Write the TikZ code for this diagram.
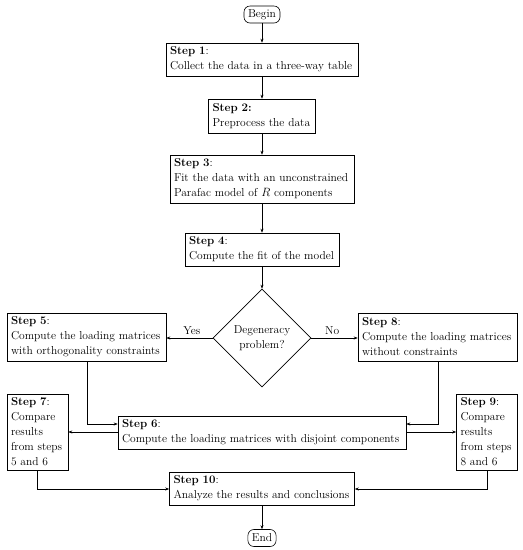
\documentclass[tikz,border=0pt]{standalone}
\usetikzlibrary{shapes.geometric,arrows.meta}
\begin{document}
\begin{tikzpicture}[x=1pt,y=-1pt,
  every node/.style={font=\fontsize{11.5}{15}\selectfont},
  stepbox/.style={draw,line width=0.6pt,rectangle,align=left,inner xsep=4pt,inner ysep=2pt,anchor=center},
  term/.style={draw,line width=0.6pt,rounded corners=6pt,inner xsep=4pt,inner ysep=1pt,minimum height=17pt},
  dec/.style={draw,line width=0.6pt,diamond,aspect=1,minimum width=98pt,minimum height=98pt,align=center,inner sep=0pt},
  conn/.style={draw,line width=0.5pt,-{Stealth[length=4pt,width=3pt]}}]
\useasboundingbox (0,0) rectangle (523,550);
\node[term] (begin) at (262,14.5) {Begin};
\node[stepbox,minimum width=192pt,minimum height=33pt,text width=184pt] (s1) at (262,59.5) {\textbf{Step 1}:\\Collect the data in a three-way table};
\node[stepbox,minimum width=107pt,minimum height=34pt,text width=99pt] (s2) at (262,116) {\textbf{Step 2:}\\Preprocess the data};
\node[stepbox,minimum width=184pt,minimum height=48pt,text width=176pt] (s3) at (262,179) {\textbf{Step 3}:\\Fit the data with an unconstrained\\Parafac model of $R$ components};
\node[stepbox,minimum width=154pt,minimum height=33pt,text width=146pt] (s4) at (262,249.5) {\textbf{Step 4}:\\Compute the fit of the model};
\node[dec] (d) at (262,338) {Degeneracy\\problem?};
\node[stepbox,minimum width=159pt,minimum height=48pt,text width=151pt] (s5) at (86.5,337) {\textbf{Step 5}:\\Compute the loading matrices\\with orthogonality constraints};
\node[stepbox,minimum width=159pt,minimum height=48pt,text width=151pt] (s8) at (437.5,337) {\textbf{Step 8}:\\Compute the loading matrices\\without constraints};
\node[stepbox,minimum width=61pt,minimum height=76pt,text width=53pt] (s7) at (37.5,432) {\textbf{Step 7}:\\Compare\\results\\from steps\\5 and 6};
\node[stepbox,minimum width=61pt,minimum height=76pt,text width=53pt] (s9) at (487,432) {\textbf{Step 9}:\\Compare\\results\\from steps\\8 and 6};
\node[stepbox,minimum width=288pt,minimum height=33pt,text width=280pt] (s6) at (262,432.5) {\textbf{Step 6}:\\Compute the loading matrices with disjoint components};
\node[stepbox,minimum width=185pt,minimum height=33pt,text width=177pt] (s10) at (262,488.5) {\textbf{Step 10}:\\Analyze the results and conclusions};
\node[term] (end) at (262,538) {End};
\draw[conn] (begin) -- (s1);
\draw[conn] (s1) -- (s2);
\draw[conn] (s2) -- (s3);
\draw[conn] (s3) -- (s4);
\draw[conn] (s4) -- (d);
\draw[conn] (d.west) -- node[above,pos=0.45] {Yes} (s5.east |- d.west);
\draw[conn] (d.east) -- node[above,pos=0.45] {No} (s8.west |- d.east);
\coordinate (c5) at (87,424);
\coordinate (c8) at (438,424);
\draw[conn] (s5.south -| c5) -- (c5) -- (s6.west |- c5);
\draw[conn] (s8.south -| c8) -- (c8) -- (s6.east |- c8);
\draw[conn] (s6.west |- s7.east) -- (s7.east);
\draw[conn] (s6.east |- s9.west) -- (s9.west);
\coordinate (c7) at (37.5,489);
\coordinate (c9) at (487,489);
\draw[conn] (s7.south) -- (c7) -- (s10.west |- c7);
\draw[conn] (s9.south) -- (c9) -- (s10.east |- c9);
\draw[conn] (s10) -- (end);
\end{tikzpicture}
\end{document}
